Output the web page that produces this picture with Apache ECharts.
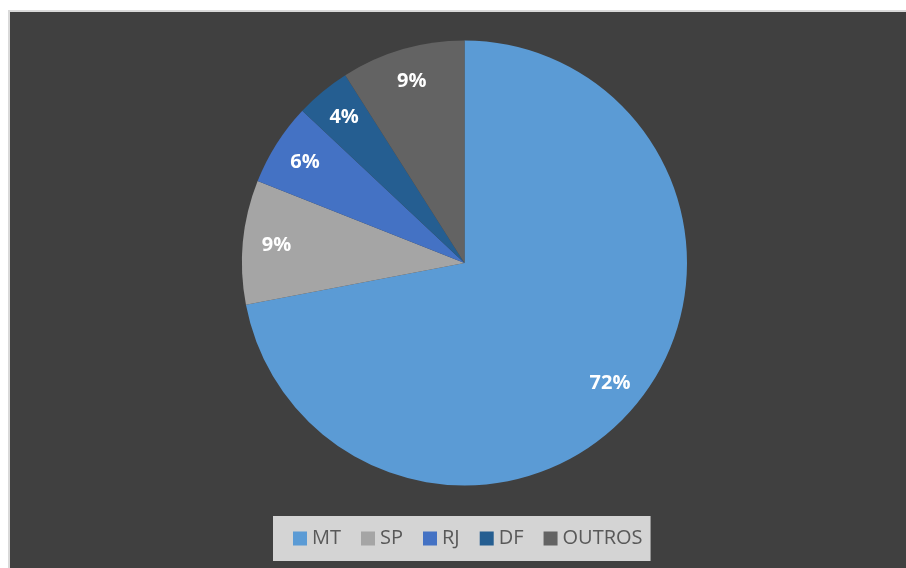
<!DOCTYPE html>
<html>
<head>
<meta charset="utf-8">
<script src="https://cdn.jsdelivr.net/npm/echarts@6/dist/echarts.min.js"></script>
<style>
  html, body { margin: 0; padding: 0; background: #ffffff; width: 906px; height: 568px; overflow: hidden; }
  #frame { position: absolute; left: 8px; top: 10px; width: 898px; height: 558px; background: #d9d9d9; }
  #chart { position: absolute; left: 10px; top: 12px; width: 896px; height: 556px; }
</style>
</head>
<body>
<div id="frame"></div>
<div id="chart"></div>
<script>
// Share by state (percent)
const categories = ['MT', 'SP', 'RJ', 'DF', 'OUTROS'];
const shares = [72, 9, 6, 4, 9];
const sliceColors = ['#5b9bd5', '#a5a5a5', '#4472c4', '#255e91', '#636363'];

const pieData = categories.map((name, i) => ({
  name: name,
  value: shares[i],
  itemStyle: { color: sliceColors[i] }
}));

const chart = echarts.init(document.getElementById('chart'), null, { renderer: 'canvas' });

const center = [454.5, 251];
const radius = 222.5;

chart.setOption({
  backgroundColor: '#404040',
  animation: false,
  legend: {
    data: categories,
    left: 263,
    top: 504,
    orient: 'horizontal',
    backgroundColor: '#d4d4d4',
    padding: [12, 8, 12, 20],
    itemWidth: 14,
    itemHeight: 14,
    itemGap: 20,
    icon: 'rect',
    selectedMode: false,
    textStyle: {
      color: '#595959',
      fontFamily: 'Open Sans',
      fontSize: 20,
      lineHeight: 21
    }
  },
  series: [
    {
      type: 'pie',
      center: center,
      radius: radius,
      startAngle: 90,
      clockwise: true,
      silent: true,
      label: { show: false },
      labelLine: { show: false },
      itemStyle: { borderWidth: 0 },
      data: pieData
    },
    {
      // transparent ring that carries the percentage labels near the rim
      type: 'pie',
      center: center,
      radius: [radius * 0.67, radius],
      startAngle: 90,
      clockwise: true,
      silent: true,
      itemStyle: { color: 'rgba(0,0,0,0)', borderWidth: 0 },
      label: {
        show: true,
        position: 'inside',
        formatter: '{d}%',
        color: '#ffffff',
        fontFamily: 'Open Sans',
        fontWeight: 'bold',
        fontSize: 20
      },
      labelLine: { show: false },
      data: categories.map((name, i) => ({ name: name, value: shares[i] }))
    }
  ]
});
</script>
</body>
</html>
